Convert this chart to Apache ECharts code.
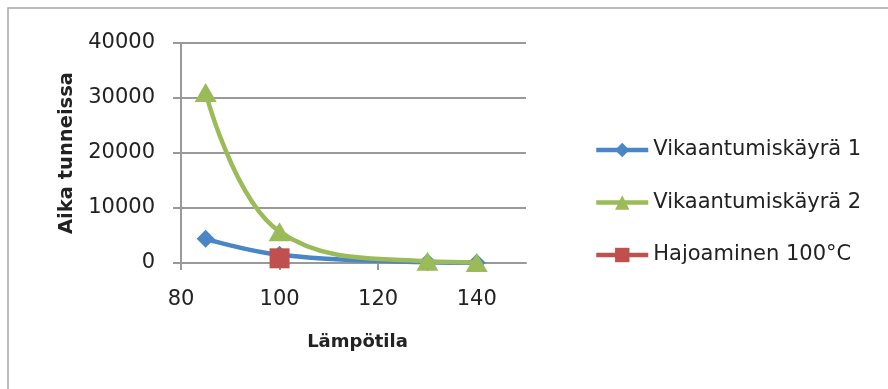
<!DOCTYPE html>
<html>
<head>
<meta charset="utf-8">
<script src="https://cdn.jsdelivr.net/npm/echarts@6/dist/echarts.min.js"></script>
<style>
html,body{margin:0;padding:0;background:#fff;}
#c{width:888px;height:389px;}
</style>
</head>
<body>
<div id="c"></div>
<script>
const seriesNames = ['Vikaantumiskäyrä 1', 'Vikaantumiskäyrä 2', 'Hajoaminen 100°C'];
const curve1 = [[85, 4400], [100, 1500], [130, 150], [140, 50]];
const curve2 = [[85, 31000], [100, 5700], [130, 300], [140, 100]];
const failure100 = [[100, 850]];
const xAxisTitle = 'Lämpötila';
const yAxisTitle = 'Aika tunneissa';

const FONT = 'DejaVu Sans';
const chart = echarts.init(document.getElementById('c'), null, {renderer: 'canvas'});
chart.setOption({
  animation: false,
  backgroundColor: '#fff',
  graphic: [{
    type: 'rect', silent: true, z: -10,
    shape: {x: 8, y: 8, width: 1000, height: 1000},
    style: {fill: 'none', stroke: '#a6a6a6', lineWidth: 1.5}
  }],
  grid: {left: 181, right: 362, top: 43, bottom: 126, containLabel: false},
  legend: {
    orient: 'vertical', left: 589, top: 134,
    itemWidth: 52, itemHeight: 18, itemGap: 30.5,
    lineStyle: {width: 4.5},
    textStyle: {fontFamily: FONT, fontSize: 21, lineHeight: 22, color: '#222'},
    data: seriesNames
  },
  xAxis: {
    type: 'value', min: 80, max: 150, interval: 20,
    name: xAxisTitle, nameLocation: 'middle', nameGap: 70,
    nameTextStyle: {fontFamily: FONT, fontSize: 18, fontWeight: 'bold', color: '#222', padding: [0, 0, 0, 8]},
    axisLine: {show: true, onZero: false, lineStyle: {color: '#999', width: 2}},
    axisTick: {show: true, length: 7, lineStyle: {color: '#999', width: 2}},
    axisLabel: {fontFamily: FONT, fontSize: 21, color: '#222', margin: 26, showMaxLabel: false},
    splitLine: {show: false}
  },
  yAxis: {
    type: 'value', min: 0, max: 40000, interval: 10000,
    name: yAxisTitle, nameLocation: 'middle', nameGap: 104,
    nameTextStyle: {fontFamily: FONT, fontSize: 19.5, fontWeight: 'bold', color: '#222'},
    axisLine: {show: true, lineStyle: {color: '#999', width: 2}},
    axisTick: {show: true, length: 8, lineStyle: {color: '#999', width: 2}},
    axisLabel: {fontFamily: FONT, fontSize: 21, color: '#222', margin: 26, formatter: v => String(v)},
    splitLine: {show: true, lineStyle: {color: '#999', width: 2}}
  },
  series: [
    {
      name: seriesNames[0], type: 'line', data: curve1, smooth: 0.4,
      symbol: 'diamond', symbolSize: 18,
      itemStyle: {color: '#4A86C5'}, lineStyle: {color: '#4A86C5', width: 4.5}, z: 2
    },
    {
      name: seriesNames[1], type: 'line', data: curve2, smooth: 0.4,
      symbol: 'triangle', symbolSize: [22, 19],
      itemStyle: {color: '#9BBB59'}, lineStyle: {color: '#9BBB59', width: 4.5}, z: 3
    },
    {
      name: seriesNames[2], type: 'line', data: failure100,
      symbol: 'rect', symbolSize: 20,
      itemStyle: {color: '#C0504D'}, lineStyle: {color: '#C0504D', width: 4.5}, z: 4
    }
  ]
});
</script>
</body>
</html>
